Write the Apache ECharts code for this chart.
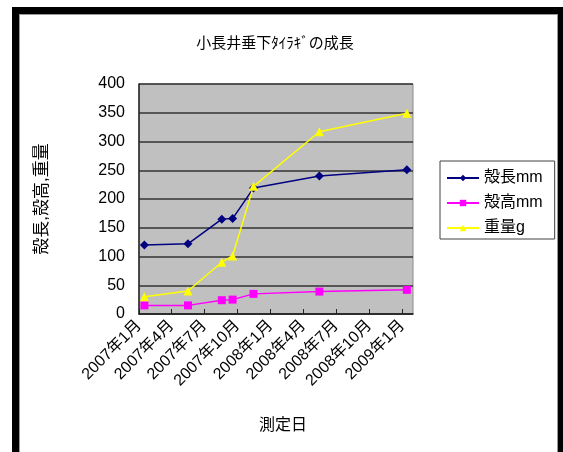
<!DOCTYPE html>
<html>
<head>
<meta charset="utf-8">
<script src="https://cdn.jsdelivr.net/npm/echarts@6/dist/echarts.min.js"></script>
<style>
  html, body { margin: 0; padding: 0; background: #fff; }
  #chart { position: absolute; left: 0; top: 0; width: 563px; height: 452px; }
  #frame { position: absolute; left: 12px; top: 7px; width: 539px; height: 460px;
           border-left: 7px solid #000; border-top: 7px solid #000; border-right: 5px solid #000;
           box-shadow: inset 1px 1px 0 #999, inset -1px 0 0 #999; pointer-events: none; }
</style>
</head>
<body>
<div id="chart"></div>
<div id="frame"></div>
<script>
// ---- data ----
const title = '小長井垂下ﾀｲﾗｷﾞの成長';
const seriesNames = ['殻長mm', '殻高mm', '重量g'];
const dates = ['2007-01-16', '2007-05-17', '2007-08-19', '2007-09-18', '2007-11-15', '2008-05-16', '2009-01-14'];
const shellLength = [120, 122, 165, 166, 219, 240, 251];
const shellHeight = [15, 15, 24, 25, 35, 39, 42];
const weight = [30, 40, 90, 101, 222, 317, 349];
const tickDates = ['2007-01-01', '2007-04-01', '2007-07-01', '2007-10-01', '2008-01-01', '2008-04-01', '2008-07-01', '2008-10-01', '2009-01-01'];
const tickLabels = ['2007年1月', '2007年4月', '2007年7月', '2007年10月', '2008年1月', '2008年4月', '2008年7月', '2008年10月', '2009年1月'];
const axisMinDate = '2007-01-01';
const axisMaxDate = '2009-01-31';
const yAxisName = '殻長,殻高,重量';
const xAxisName = '測定日';

// day number since epoch (UTC) for a date string
function dayNum(s) { const p = s.split('-').map(Number); return Date.UTC(p[0], p[1] - 1, p[2]) / 86400000; }
const tickDays = tickDates.map(dayNum);
function pairs(vals) { return dates.map((d, i) => [dayNum(d), vals[i]]); }

const FONT = "'Liberation Sans', 'Noto Sans CJK JP', sans-serif";
const chart = echarts.init(document.getElementById('chart'), null, { renderer: 'canvas' });
chart.setOption({
  animation: false,
  backgroundColor: '#fff',
  textStyle: { fontFamily: FONT, color: '#000' },
  title: {
    text: title, left: 270, top: 31, textAlign: 'center',
    textStyle: { fontFamily: FONT, fontSize: 15, fontWeight: 'normal', color: '#000' }
  },
  legend: {
    orient: 'vertical', left: 440, top: 161,
    padding: [8, 12, 2, 6], itemGap: 7, itemWidth: 32, itemHeight: 8,
    borderColor: '#404040', borderWidth: 1, backgroundColor: '#fff',
    textStyle: { fontFamily: FONT, fontSize: 16, color: '#000', lineHeight: 18 },
    data: seriesNames
  },
  grid: {
    left: 139, right: 150, top: 84, bottom: 138,
    show: true, backgroundColor: '#c0c0c0', borderColor: '#8a8a8a', borderWidth: 1,
    containLabel: false
  },
  xAxis: {
    type: 'value', min: dayNum(axisMinDate), max: dayNum(axisMaxDate),
    name: xAxisName, nameLocation: 'middle', nameGap: 104,
    nameTextStyle: { fontFamily: FONT, fontSize: 16, color: '#000', padding: [0, 0, 0, 14] },
    axisLine: { show: true, lineStyle: { color: '#222', width: 1.5 } },
    axisTick: { show: true, inside: true, length: 5, customValues: tickDays, lineStyle: { color: '#222' } },
    axisLabel: {
      customValues: tickDays, rotate: 45, margin: 9,
      fontFamily: FONT, fontSize: 16, color: '#000',
      formatter: function (v) { const i = tickDays.indexOf(v); return i >= 0 ? tickLabels[i] : ''; }
    },
    splitLine: { show: false }
  },
  yAxis: {
    type: 'value', min: 0, max: 400, interval: 50,
    name: yAxisName, nameLocation: 'middle', nameGap: 88, nameRotate: 90,
    nameTextStyle: { fontFamily: FONT, fontSize: 17, color: '#000' },
    axisLine: { show: true, lineStyle: { color: '#222', width: 1.5 } },
    axisTick: { show: false },
    axisLabel: { fontFamily: FONT, fontSize: 16, color: '#000', margin: 14 },
    splitLine: { show: true, lineStyle: { color: '#333', width: 1.5 } }
  },
  series: [
    { name: seriesNames[0], type: 'line', data: pairs(shellLength), symbol: 'diamond', symbolSize: 9,
      lineStyle: { color: '#000080', width: 1.5 }, itemStyle: { color: '#000080' } },
    { name: seriesNames[1], type: 'line', data: pairs(shellHeight), symbol: 'rect', symbolSize: 8,
      lineStyle: { color: '#ff00ff', width: 1.5 }, itemStyle: { color: '#ff00ff' } },
    { name: seriesNames[2], type: 'line', data: pairs(weight), symbol: 'triangle', symbolSize: 9,
      lineStyle: { color: '#ffff00', width: 1.5 }, itemStyle: { color: '#ffff00' } }
  ]
});
</script>
</body>
</html>
